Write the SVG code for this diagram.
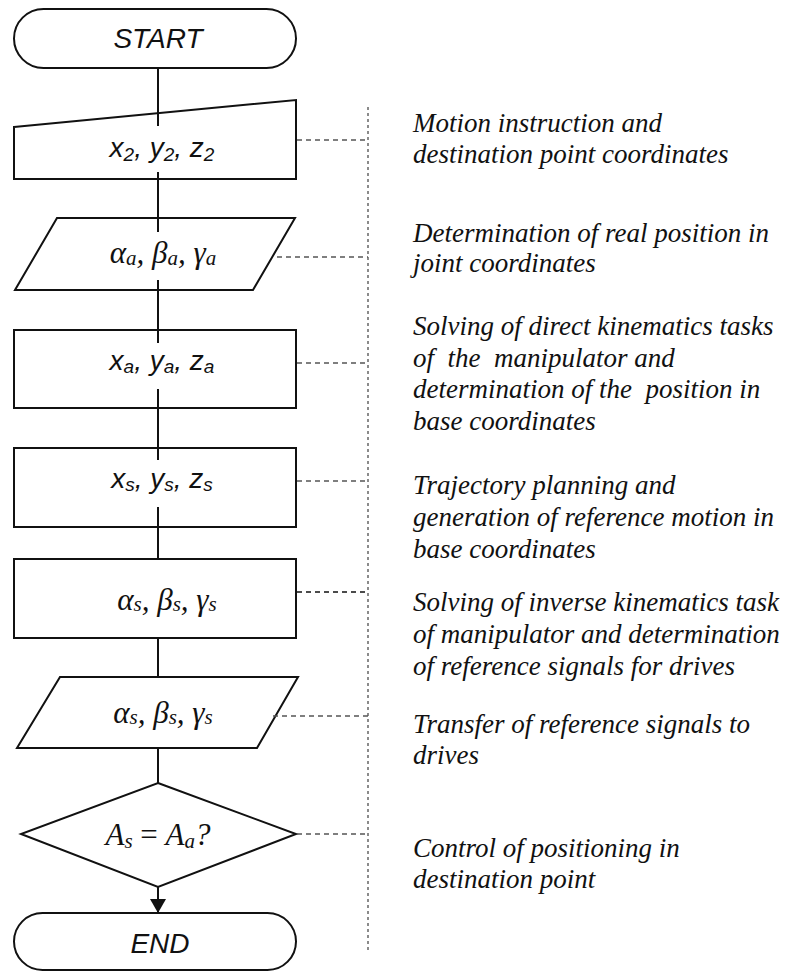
<svg xmlns="http://www.w3.org/2000/svg" width="792" height="971" viewBox="0 0 792 971">
<style>
.shape{fill:#fff;stroke:#111;stroke-width:2}
.conn{stroke:#111;stroke-width:2;fill:none}
.lead{stroke:#555;stroke-width:1.5;stroke-dasharray:5 4;fill:none}
.leadk{stroke:#111;stroke-width:1.5;stroke-dasharray:5 4;fill:none}
.vdot{stroke:#666;stroke-width:1.5;stroke-dasharray:3 3;fill:none}
.sans{font-family:"Liberation Sans",Arial,sans-serif;font-style:italic;font-size:28px;fill:#111}
.ser{font-family:"Liberation Serif","Times New Roman",serif;font-style:italic;font-size:31px;fill:#111}
.note{font-family:"Liberation Serif","Times New Roman",serif;font-style:italic;font-size:27px;fill:#111}
</style>
<defs>
<marker id="arr" markerWidth="14" markerHeight="16" refX="14" refY="8" orient="auto" markerUnits="userSpaceOnUse">
<path d="M0,0 L14,8 L0,16 Z" fill="#111"/>
</marker>
</defs>

<g id="n-start">
<rect class="shape" x="14" y="9" width="282" height="59" rx="29.5"/>
<text class="sans" x="158" y="48" text-anchor="middle">START</text>
</g>

<g id="n-input">
<polygon class="shape" points="14,127 296,100 296,179 14,179"/>
<text class="sans" x="162" y="157" text-anchor="middle">x<tspan font-size="19" dy="4">2</tspan><tspan dy="-4">, y</tspan><tspan font-size="19" dy="4">2</tspan><tspan dy="-4">, z</tspan><tspan font-size="19" dy="4">2</tspan></text>
</g>

<g id="n-joint">
<polygon class="shape" points="57,218 295,218 253,290 15,290"/>
<text class="ser" x="163" y="263" text-anchor="middle">α<tspan font-size="21" dy="2">a</tspan><tspan dy="-2">, β</tspan><tspan font-size="21" dy="2">a</tspan><tspan dy="-2">, γ</tspan><tspan font-size="21" dy="2">a</tspan></text>
</g>

<g id="n-xa">
<rect class="shape" x="14" y="330" width="282" height="78"/>
<text class="sans" x="162" y="370" text-anchor="middle">x<tspan font-size="19" dy="3">a</tspan><tspan dy="-3">, y</tspan><tspan font-size="19" dy="3">a</tspan><tspan dy="-3">, z</tspan><tspan font-size="19" dy="3">a</tspan></text>
</g>

<g id="n-xs">
<rect class="shape" x="14" y="448" width="282" height="79"/>
<text class="sans" x="162" y="488" text-anchor="middle">x<tspan font-size="19" dy="3">s</tspan><tspan dy="-3">, y</tspan><tspan font-size="19" dy="3">s</tspan><tspan dy="-3">, z</tspan><tspan font-size="19" dy="3">s</tspan></text>
</g>

<g id="n-as">
<rect class="shape" x="14" y="559" width="282" height="79"/>
<text class="ser" x="167" y="610" text-anchor="middle">α<tspan font-size="21" dy="1">s</tspan><tspan dy="-1">, β</tspan><tspan font-size="21" dy="1">s</tspan><tspan dy="-1">, γ</tspan><tspan font-size="21" dy="1">s</tspan></text>
</g>

<g id="n-out">
<polygon class="shape" points="60,677 298,677 257,748 17,748"/>
<text class="ser" x="163" y="723" text-anchor="middle">α<tspan font-size="21" dy="1">s</tspan><tspan dy="-1">, β</tspan><tspan font-size="21" dy="1">s</tspan><tspan dy="-1">, γ</tspan><tspan font-size="21" dy="1">s</tspan></text>
</g>

<g id="n-dec">
<polygon class="shape" points="158,783 296,834 158,887 21,834"/>
<text class="ser" x="158" y="845" text-anchor="middle">A<tspan font-size="21" dy="3">s</tspan><tspan dy="-3" font-style="normal"> = </tspan>A<tspan font-size="21" dy="3">a</tspan><tspan dy="-3">?</tspan></text>
</g>

<g id="n-end">
<rect class="shape" x="14" y="913" width="282" height="57" rx="28.5"/>
<text class="sans" x="160" y="953" text-anchor="middle">END</text>
</g>

<g id="connectors">
<line class="conn" x1="158" y1="68" x2="158" y2="126"/>
<line class="conn" x1="158" y1="172" x2="158" y2="232"/>
<line class="conn" x1="158" y1="280" x2="158" y2="343"/>
<line class="conn" x1="158" y1="389" x2="158" y2="460"/>
<line class="conn" x1="158" y1="507" x2="158" y2="559"/>
<line class="conn" x1="158" y1="638" x2="158" y2="677"/>
<line class="conn" x1="158" y1="748" x2="158" y2="783"/>
<line class="conn" x1="158" y1="887" x2="158" y2="913" marker-end="url(#arr)"/>
</g>

<g id="leaders">
<line class="vdot" x1="368" y1="107" x2="368" y2="953"/>
<line class="lead" x1="297" y1="140" x2="368" y2="140"/>
<line class="lead" x1="277" y1="257" x2="368" y2="257"/>
<line class="lead" x1="297" y1="363" x2="368" y2="363"/>
<line class="lead" x1="297" y1="481" x2="368" y2="481"/>
<line class="leadk" x1="297" y1="592" x2="368" y2="592"/>
<line class="lead" x1="273" y1="716" x2="368" y2="716"/>
<line class="lead" x1="297" y1="834" x2="368" y2="834"/>
</g>

<g id="notes" class="note">
<text x="413" y="132">Motion instruction and</text>
<text x="413" y="163">destination point coordinates</text>
<text x="413" y="242">Determination of real position in</text>
<text x="413" y="272">joint coordinates</text>
<text x="413" y="335">Solving of direct kinematics tasks</text>
<text x="413" y="367" xml:space="preserve">of  the  manipulator and</text>
<text x="413" y="398" xml:space="preserve">determination of the  position in</text>
<text x="413" y="430">base coordinates</text>
<text x="413" y="494">Trajectory planning and</text>
<text x="413" y="526">generation of reference motion in</text>
<text x="413" y="558">base coordinates</text>
<text x="413" y="611">Solving of inverse kinematics task</text>
<text x="413" y="643">of manipulator and determination</text>
<text x="413" y="675">of reference signals for drives</text>
<text x="413" y="733">Transfer of reference signals to</text>
<text x="413" y="764">drives</text>
<text x="413" y="857">Control of positioning in</text>
<text x="413" y="888">destination point</text>
</g>
</svg>
